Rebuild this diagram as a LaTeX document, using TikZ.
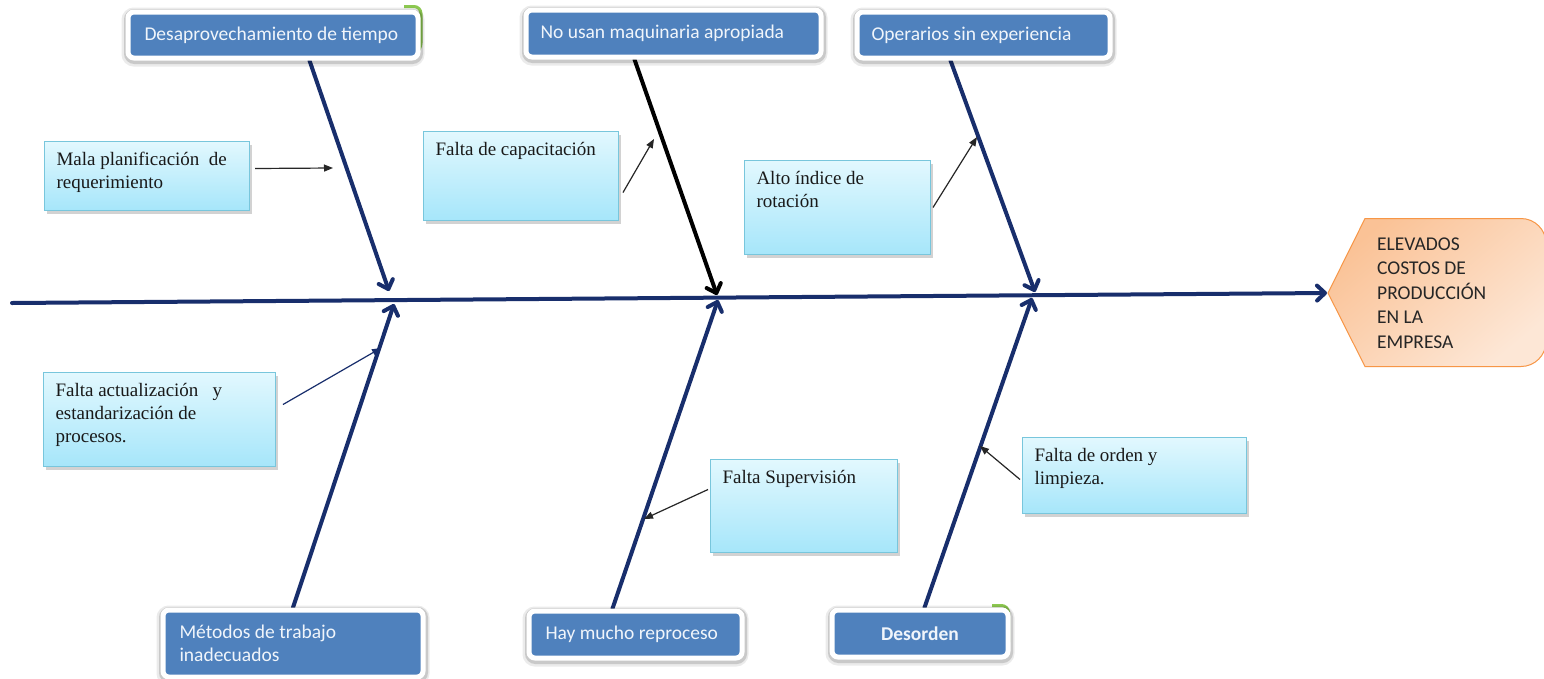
\documentclass[tikz,border=0pt]{standalone}
\usepackage{fontspec}
\setmainfont{Liberation Serif}
\newfontfamily\calib{Carlito}
\usetikzlibrary{arrows.meta,shadows}
\pgfdeclarelayer{bg}
\pgfsetlayers{bg,main}

\definecolor{navy}{RGB}{24,46,108}
\definecolor{catblue}{RGB}{79,129,189}
\definecolor{cattext}{RGB}{240,245,251}
\definecolor{leafgreen}{RGB}{140,200,80}
\definecolor{cyantop}{RGB}{226,248,254}
\definecolor{cyanbot}{RGB}{166,230,250}
\definecolor{cyanline}{RGB}{120,198,220}
\definecolor{headA}{RGB}{250,194,150}
\definecolor{headB}{RGB}{253,231,214}
\definecolor{headline}{RGB}{247,150,70}

\begin{document}
\begin{tikzpicture}[x=1pt,y=-1pt,
  catbox/.style={anchor=north west, inner sep=0pt, fill=catblue, draw=white,
    line width=5pt, rounded corners=6pt, text=cattext,
    font=\calib\fontsize{19.5}{23}\selectfont,
    preaction={draw=black, draw opacity=0.08, line width=13pt,
      transform canvas={yshift=-2pt}},
    preaction={draw=black, draw opacity=0.14, line width=9pt,
      transform canvas={xshift=0.5pt,yshift=-1.5pt}}},
  causebox/.style={anchor=north west, inner xsep=12pt, inner ysep=11pt,
    draw=cyanline, line width=1pt, top color=cyantop, bottom color=cyanbot,
    text=black!90, font=\fontsize{19}{23}\selectfont,
    drop shadow={shadow xshift=2.5pt, shadow yshift=-3pt, opacity=0.35}},
  bone/.style={line width=4pt, draw=navy, line cap=round,
    -{Straight Barb[length=8pt,width=15pt,round]}},
  darkbone/.style={bone, draw=black},
  twig/.style={line width=1.2pt, draw=black!85,
    -{Triangle[length=9pt,width=7pt]}},
  navytwig/.style={twig, draw=navy},
  sliver/.style={draw=leafgreen, line width=3pt, rounded corners=7pt}
]
\useasboundingbox (0,0) rectangle (1544,678);
\begin{pgfonlayer}{bg}
  \fill[white] (0,0) rectangle (1544,678);
\end{pgfonlayer}

% effect: elongated hexagon with rounded right end
\begin{scope}
  \clip (0,0) rectangle (1544,678);
  \shade[top color=headA, bottom color=headB, shading angle=40,
         draw=headline, line width=1pt]
    (1328,293) -- (1365,218.5) [rounded corners=25pt] -- (1546,218.5)
    -- (1546,366.5) [sharp corners] -- (1365,366.5) -- cycle;
\end{scope}
\node[anchor=west, inner sep=0pt, align=left, text=black!85,
      font=\calib\fontsize{19.5}{24.5}\selectfont] (head) at (1377,293)
  {ELEVADOS\\COSTOS DE\\PRODUCCIÓN\\EN LA\\EMPRESA};

% green edges peeking out behind two category boxes
\draw[sliver] (404,6.5) -- (421,6.5) -- (421,50) -- (414,55);
\draw[sliver] (992,605.5) -- (1008.5,605.5) -- (1008.5,649) -- (1002,654);

% category boxes
\node[catbox, minimum width=290pt, minimum height=46pt] (desap) at (125.5,9.5)
  {\makebox[257pt][l]{Desaprovechamiento de tiempo}};
\node[catbox, minimum width=295pt, minimum height=47pt] (maqui) at (523.5,7.5)
  {\makebox[266pt][l]{No usan maquinaria apropiada}};
\node[catbox, minimum width=253pt, minimum height=46pt] (oper) at (854.5,9.5)
  {\makebox[224pt][l]{Operarios sin experiencia}};
\node[catbox, minimum width=260pt, minimum height=67pt] (metod) at (160.5,607.5)
  {\parbox{227pt}{\raggedright Métodos de trabajo\\inadecuados}};
\node[catbox, minimum width=213pt, minimum height=47pt] (hay) at (526.5,608.5)
  {\makebox[180pt][l]{Hay mucho reproceso}};
\node[catbox, minimum width=176pt, minimum height=47pt] (desor) at (829.5,607.5)
  {\bfseries Desorden};

% cause boxes
\node[causebox] (mala) at (44,141)
  {\parbox[c][47pt][t]{181pt}{\raggedright Mala planificación~~de\\requerimiento}};
\node[causebox] (capac) at (423,131)
  {\parbox[c][67pt][t]{171pt}{\raggedright Falta de capacitación}};
\node[causebox] (alto) at (744,160)
  {\parbox[c][72pt][t]{162pt}{\raggedright Alto índice de\\rotación}};
\node[causebox] (actual) at (43,372)
  {\parbox[c][72pt][t]{208pt}{\raggedright Falta actualización~~~y\\estandarización de\\procesos.}};
\node[causebox] (superv) at (710,459)
  {\parbox[c][71pt][t]{163pt}{\raggedright Falta Supervisión}};
\node[causebox] (orden) at (1022,437)
  {\parbox[c][54pt][t]{200pt}{\raggedright Falta de orden y\\limpieza.}};

% spine and bone end points
\coordinate (tail) at (12,303);
\coordinate (headtip) at (1327,293);
\coordinate (j1a) at (389,291);
\coordinate (j1b) at (394,304);
\coordinate (j2a) at (717,295);
\coordinate (j2b) at (718,300);
\coordinate (j3a) at (1035,292);
\coordinate (j3b) at (1032,298);

% points on the bones where the sub-causes point
\coordinate (t1) at (333,168);
\coordinate (t2) at (654,139);
\coordinate (t3) at (977,137);
\coordinate (t4) at (381,348);
\coordinate (t5) at (644,519);
\coordinate (t6) at (980,446);

\begin{pgfonlayer}{bg}
  \draw[bone] (tail) -- (headtip);
  \draw[bone] ([xshift=36.5pt]desap.south) -- (j1a);
  \draw[darkbone] ([xshift=-39pt]maqui.south) -- (j2a);
  \draw[bone] ([xshift=-33pt]oper.south) -- (j3a);
  \draw[bone] (metod.north) -- (j1b);
  \draw[bone] ([xshift=-23pt]hay.north) -- (j2b);
  \draw[bone] ([xshift=4.5pt]desor.north) -- (j3b);
\end{pgfonlayer}

% sub-cause arrows
\draw[twig] ([xshift=5pt,yshift=7.5pt]mala.east) -- (t1);
\draw[twig] ([xshift=4pt,yshift=-16.5pt]capac.east) -- (t2);
\draw[twig] ([xshift=2pt]alto.east) -- (t3);
\draw[navytwig] ([xshift=7pt,yshift=15pt]actual.east) -- (t4);
\draw[twig] ([xshift=-2pt,yshift=16.5pt]superv.west) -- (t5);
\draw[twig] ([xshift=-2pt,yshift=-4pt]orden.west) -- (t6);
\end{tikzpicture}
\end{document}
